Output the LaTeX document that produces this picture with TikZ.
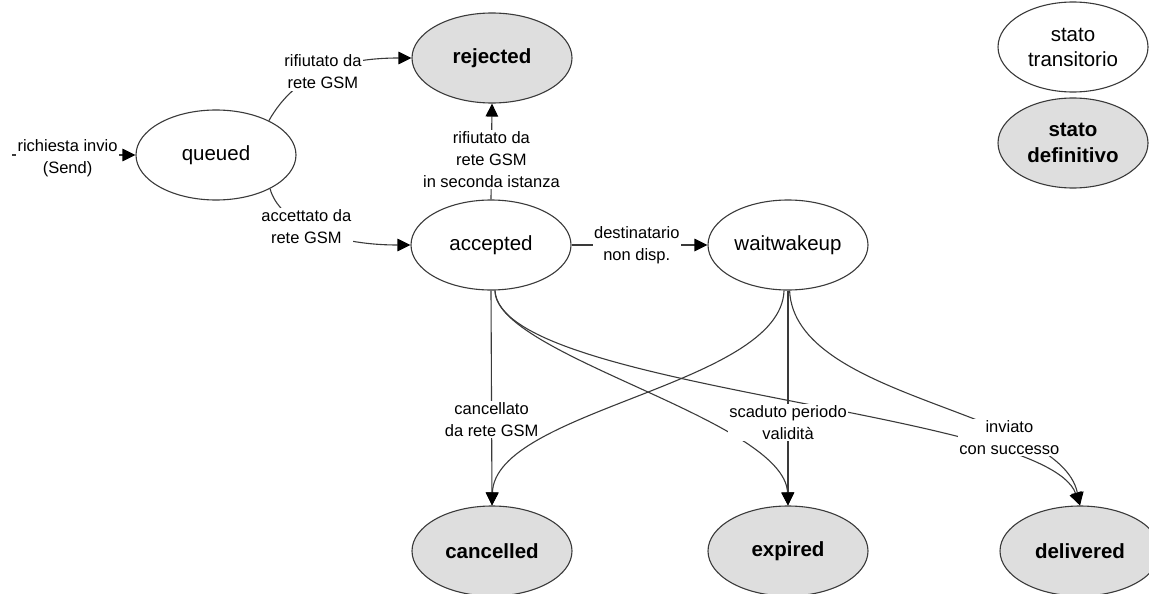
\documentclass[tikz,border=0pt]{standalone}
\usepackage{fontspec}
\setmainfont{Liberation Sans}
\usetikzlibrary{arrows.meta,shapes.geometric}
\definecolor{edgecol}{HTML}{3A3A3A}
\definecolor{finalfill}{HTML}{DEDEDE}
\begin{document}
\begin{tikzpicture}[x=1pt,y=-1pt,
  state/.style={ellipse, draw=edgecol, line width=1.1pt, minimum width=160pt,
    minimum height=90pt, inner sep=0pt, align=center,
    font=\fontsize{20.5}{25}\selectfont, text=black},
  transient/.style={state, fill=white},
  final/.style={state, fill=finalfill, font=\fontsize{20.5}{26}\selectfont\bfseries},
  trans/.style={draw=edgecol, line width=1.1pt,
    -{Triangle[length=13pt,width=12.5pt,fill=black,color=black]}},
  lbl/.style={fill=white, inner sep=1.5pt, align=center,
    font=\fontsize{16.5}{22}\selectfont, text=black}]
\useasboundingbox (0,0) rectangle (1149,594);

% states
\node[transient] (queued)    at (216,155) {queued};
\node[final]     (rejected)  at (492,58)  {rejected};
\node[transient] (accepted)  at (491,245) {accepted};
\node[transient] (wait)      at (788,245) {waitwakeup};
\node[final]     (cancelled) at (492,551) {cancelled};
\node[final]     (expired)   at (788,551) {expired};
\node[final]     (delivered) at (1080,551) {delivered};

% legend
\node[transient, minimum width=150pt] (legtrans) at (1073,47)  {stato\\transitorio};
\node[final, minimum width=150pt]     (legfinal) at (1073,143) {stato\\definitivo};

% unlabelled curves first, so the labels sit on top of them
\draw[trans] (accepted.-85) .. controls +(0,65) and +(-3,-86) .. (expired.north);
\draw[trans] (accepted.-85) .. controls +(5,100) and +(-35,-96) .. (delivered.north);
\draw[trans] (wait.-95) .. controls +(-3,95) and +(3,-96) .. (cancelled.north);

% labelled transitions
\coordinate (send) at (12,155);
\draw[trans] (send) -- node[lbl, pos=0.45, yshift=-3pt] {richiesta invio\\(Send)} (queued.west);

\draw[trans] (queued.33) .. controls +(26,-46) and +(-72,0) ..
  node[lbl, pos=0.5] {rifiutato da\\rete GSM} (rejected.west);

\draw[trans] (queued.-32) .. controls +(9,33) and +(-81,0) ..
  node[lbl, pos=0.45] {accettato da\\rete GSM} (accepted.west);

\draw[trans] (accepted.north) -- node[lbl, pos=0.42]
  {rifiutato da\\rete GSM\\in seconda istanza} (rejected.south);

\draw[trans] (accepted.east) -- node[lbl, pos=0.48] {destinatario\\non disp.} (wait.west);

\draw[trans] (accepted.south) -- node[lbl, pos=0.6] {cancellato\\da rete GSM} (cancelled.north);

\draw[trans] (wait.south) -- node[lbl, pos=0.615] {scaduto periodo\\validità} (expired.north);

\draw[trans] (wait.-88) .. controls +(5,110) and +(-20,-96) ..
  node[lbl, pos=0.7] {inviato\\con successo} (delivered.north);
\end{tikzpicture}
\end{document}
